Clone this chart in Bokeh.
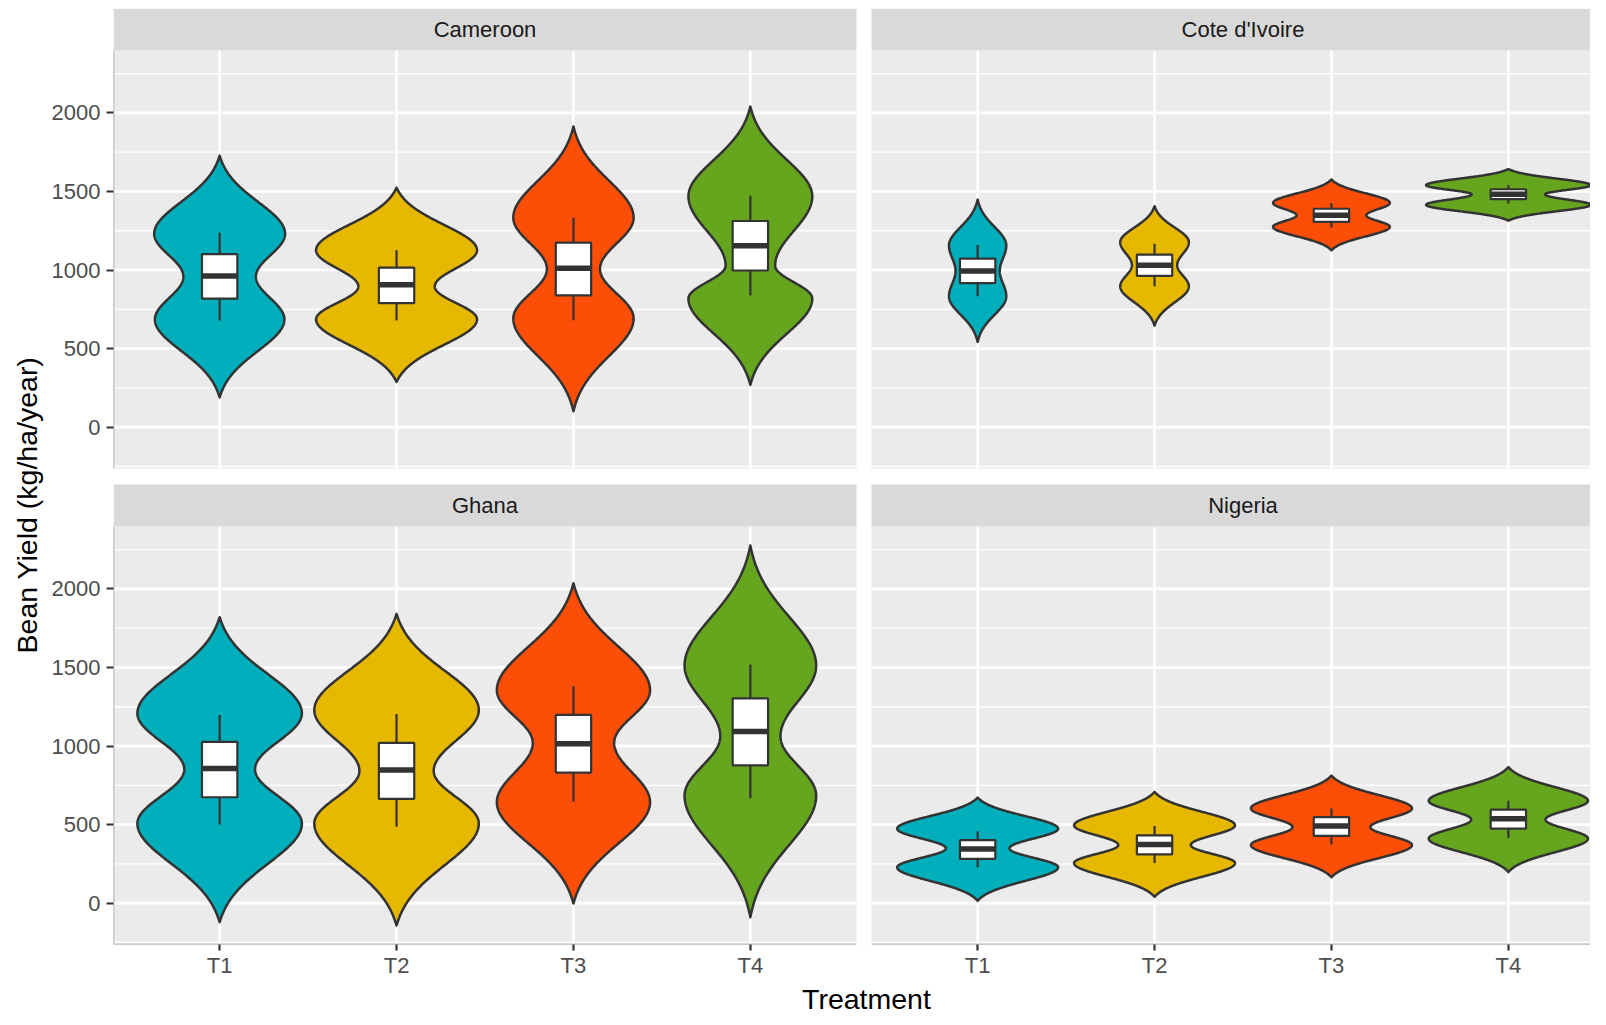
import numpy as np
from bokeh.plotting import figure
from bokeh.models import FixedTicker, Range1d, ColumnDataSource, Title
from bokeh.embed import file_html
from bokeh.resources import INLINE
from bokeh.core.properties import value

# ---------------- data ----------------
countries = ["Cameroon", "Cote d'Ivoire", "Ghana", "Nigeria"]
treatments = ["T1", "T2", "T3", "T4"]
treatment_colors = ["#00AFBB", "#E7B800", "#FC4E07", "#66A61E"]

# violin outline: tips, lower / upper modes and neck (kg/ha/year), half widths (x units)
tip_low    = [[189, 287, 101, 269], [542, 646, 1125, 1314], [-121, -142, -2, -90], [15, 40, 165, 198]]
mode_low   = [[686, 686, 692, 818], [833, 896, 1275, 1415], [507, 507, 643, 685], [228, 255, 370, 411]]
width_low  = [[0.366, 0.455, 0.340, 0.350], [0.162, 0.194, 0.330, 0.465],
              [0.465, 0.465, 0.433, 0.372], [0.455, 0.455, 0.455, 0.450]]
neck       = [[958, 895, 1007, 1028], [994, 1031, 1348, 1481], [852, 842, 1020, 1062], [349, 370, 484, 532]]
width_neck = [[0.205, 0.216, 0.150, 0.140], [0.125, 0.128, 0.197, 0.207],
              [0.200, 0.210, 0.230, 0.170], [0.180, 0.205, 0.220, 0.210]]
mode_high  = [[1231, 1126, 1333, 1469], [1156, 1177, 1427, 1540], [1208, 1229, 1355, 1512], [474, 495, 603, 651]]
width_high = [[0.370, 0.455, 0.340, 0.350], [0.162, 0.194, 0.330, 0.465],
              [0.465, 0.465, 0.433, 0.372], [0.455, 0.455, 0.455, 0.450]]
tip_high   = [[1728, 1524, 1914, 2040], [1448, 1406, 1577, 1643], [1820, 1841, 2036, 2276], [672, 708, 812, 866]]

# box plot statistics (kg/ha/year)
whisker_low  = [[679, 679, 680, 839], [833, 896, 1271, 1423], [500, 486, 647, 668], [228, 255, 374, 415]]
q1           = [[818, 790, 839, 997], [917, 963, 1306, 1451], [674, 664, 831, 877], [282, 311, 428, 474]]
median       = [[962, 906, 1011, 1154], [994, 1031, 1348, 1482], [857, 848, 1014, 1093], [344, 374, 491, 537]]
q3           = [[1101, 1015, 1175, 1312], [1073, 1098, 1390, 1514], [1026, 1020, 1198, 1303], [401, 432, 547, 595]]
whisker_high = [[1237, 1126, 1333, 1473], [1160, 1167, 1427, 1539], [1198, 1204, 1380, 1518], [457, 491, 603, 651]]

y_major = [0, 500, 1000, 1500, 2000]
y_minor = [-250, 250, 750, 1250, 1750, 2250]

# ---------------- layout ----------------
Y_LO, Y_HI = -263.0, 2397.0
X_LO, X_HI = 0.4, 4.6
PANEL_W, PANEL_H = 743, 418
STRIP_H, HGAP, VGAP = 42, 15, 16
LEFT, TOP = 113, 8
FRAME_W = 1590 - LEFT
FRAME_H = 2 * (PANEL_H + STRIP_H) + VGAP
BOTTOM = 1009 - TOP - FRAME_H
upx = (X_HI - X_LO) / PANEL_W
upp = (Y_HI - Y_LO) / PANEL_H
XO = (PANEL_W + HGAP) * upx
YO = (PANEL_H + STRIP_H + VGAP) * upp
BOX_HALF = 0.1
panel_col = [0, 1, 0, 1]
panel_row = [1, 1, 0, 0]   # 1 = top row

FONT = "Liberation Sans"
DARK = "#333333"
TITLE_PX = 28.5

p = figure(frame_width=FRAME_W, frame_height=FRAME_H,
           x_range=Range1d(X_LO, X_LO + FRAME_W * upx),
           y_range=Range1d(Y_LO, Y_LO + FRAME_H * upp),
           output_backend="svg", toolbar_location=None,
           min_border_left=LEFT, min_border_right=0, min_border_top=TOP, min_border_bottom=BOTTOM,
           background_fill_color="white", border_fill_color="white", outline_line_color=None)
p.grid.visible = False


def violin_outline(t_lo, m_lo, w_lo, nk, w_nk, m_hi, w_hi, t_hi, n=301):
    v = np.linspace(t_lo, t_hi, n)
    hw = np.zeros_like(v)
    s_lo = 0.4 * (m_lo - t_lo)
    s_hi = 0.4 * (t_hi - m_hi)
    g_end = np.exp(-0.5 / 0.16)
    m = v <= m_lo
    d = (m_lo - v[m]) / (m_lo - t_lo)
    hw[m] = w_lo * (np.exp(-0.5 * ((m_lo - v[m]) / s_lo) ** 2) - g_end * d ** 2)
    m = (v > m_lo) & (v <= nk)
    f = (v[m] - m_lo) / (nk - m_lo)
    hw[m] = w_nk + (w_lo - w_nk) * (1 + np.cos(np.pi * f)) / 2
    m = (v > nk) & (v <= m_hi)
    f = (v[m] - nk) / (m_hi - nk)
    hw[m] = w_nk + (w_hi - w_nk) * (1 - np.cos(np.pi * f)) / 2
    m = v > m_hi
    d = (v[m] - m_hi) / (t_hi - m_hi)
    hw[m] = w_hi * (np.exp(-0.5 * ((v[m] - m_hi) / s_hi) ** 2) - g_end * d ** 2)
    return v, np.clip(hw, 0, None)


bg = dict(left=[], right=[], bottom=[], top=[])
strip = dict(left=[], right=[], bottom=[], top=[], tx=[], ty=[])
gmaj = dict(x0=[], y0=[], x1=[], y1=[])
gmin = dict(x0=[], y0=[], x1=[], y1=[])
axl = dict(x0=[], y0=[], x1=[], y1=[])
vio = dict(xs=[], ys=[], color=[])
wh = dict(x0=[], y0=[], x1=[], y1=[])
box = dict(left=[], right=[], bottom=[], top=[])
med = dict(x0=[], x1=[], y=[])

for i, c in enumerate(countries):
    xo = XO * panel_col[i]
    yo = YO * panel_row[i]
    bg["left"].append(X_LO + xo); bg["right"].append(X_HI + xo)
    bg["bottom"].append(Y_LO + yo); bg["top"].append(Y_HI + yo)
    strip["left"].append(X_LO + xo); strip["right"].append(X_HI + xo)
    strip["bottom"].append(Y_HI + yo); strip["top"].append(Y_HI + yo + STRIP_H * upp)
    strip["tx"].append((X_LO + X_HI) / 2 + xo); strip["ty"].append(Y_HI + yo + STRIP_H * upp / 2)
    for t in y_major:
        gmaj["x0"].append(X_LO + xo); gmaj["x1"].append(X_HI + xo)
        gmaj["y0"].append(t + yo); gmaj["y1"].append(t + yo)
    for t in y_minor:
        gmin["x0"].append(X_LO + xo); gmin["x1"].append(X_HI + xo)
        gmin["y0"].append(t + yo); gmin["y1"].append(t + yo)
    for k in range(len(treatments)):
        gmaj["x0"].append(k + 1 + xo); gmaj["x1"].append(k + 1 + xo)
        gmaj["y0"].append(Y_LO + yo); gmaj["y1"].append(Y_HI + yo)
    if panel_col[i] == 0:
        axl["x0"].append(X_LO); axl["x1"].append(X_LO)
        axl["y0"].append(Y_LO + yo); axl["y1"].append(Y_HI + yo)
    if panel_row[i] == 0:
        axl["x0"].append(X_LO + xo); axl["x1"].append(X_HI + xo)
        axl["y0"].append(Y_LO); axl["y1"].append(Y_LO)
    for j, tr in enumerate(treatments):
        cx = j + 1 + xo
        v, hw = violin_outline(tip_low[i][j], mode_low[i][j], width_low[i][j], neck[i][j],
                               width_neck[i][j], mode_high[i][j], width_high[i][j], tip_high[i][j])
        vio["xs"].append(list(np.concatenate([cx - hw, (cx + hw)[::-1]])))
        vio["ys"].append(list(np.concatenate([v, v[::-1]]) + yo))
        vio["color"].append(treatment_colors[j])
        wh["x0"] += [cx, cx]; wh["x1"] += [cx, cx]
        wh["y0"] += [whisker_low[i][j] + yo, q3[i][j] + yo]
        wh["y1"] += [q1[i][j] + yo, whisker_high[i][j] + yo]
        box["left"].append(cx - BOX_HALF); box["right"].append(cx + BOX_HALF)
        box["bottom"].append(q1[i][j] + yo); box["top"].append(q3[i][j] + yo)
        med["x0"].append(cx - BOX_HALF); med["x1"].append(cx + BOX_HALF); med["y"].append(median[i][j] + yo)

p.quad(source=ColumnDataSource(bg), left="left", right="right", bottom="bottom", top="top",
       fill_color="#EBEBEB", line_color=None)
p.segment(source=ColumnDataSource(gmin), x0="x0", y0="y0", x1="x1", y1="y1",
          line_color="white", line_width=1.3)
p.segment(source=ColumnDataSource(gmaj), x0="x0", y0="y0", x1="x1", y1="y1",
          line_color="white", line_width=2.6)
p.patches(source=ColumnDataSource(vio), xs="xs", ys="ys", fill_color="color",
          line_color=DARK, line_width=2.5, line_join="round")
p.segment(source=ColumnDataSource(wh), x0="x0", y0="y0", x1="x1", y1="y1",
          line_color=DARK, line_width=2.2)
p.quad(source=ColumnDataSource(box), left="left", right="right", bottom="bottom", top="top",
       fill_color="white", line_color=DARK, line_width=2.2)
p.segment(source=ColumnDataSource(med), x0="x0", y0="y", x1="x1", y1="y",
          line_color=DARK, line_width=5.5, line_cap="butt")
p.quad(source=ColumnDataSource(strip), left="left", right="right", bottom="bottom", top="top",
       fill_color="#D9D9D9", line_color=None)
p.text(source=ColumnDataSource(dict(x=strip["tx"], y=strip["ty"], t=countries)), x="x", y="y", text="t",
       text_align="center", text_baseline="middle", text_font=value(FONT),
       text_font_size="22px", text_color="#1A1A1A")
p.segment(source=ColumnDataSource(axl), x0="x0", y0="y0", x1="x1", y1="y1",
          line_color="#9A9A9A", line_width=1.5)

# axes
yt = [float(t) for t in y_major] + [float(t + YO) for t in y_major]
p.yaxis.ticker = FixedTicker(ticks=yt, minor_ticks=[])
p.yaxis.major_label_overrides = {yt[k]: str(y_major[k % len(y_major)]) for k in range(len(yt))}
xt = [float(k + 1) for k in range(4)] + [float(k + 1 + XO) for k in range(4)]
p.xaxis.ticker = FixedTicker(ticks=xt, minor_ticks=[])
p.xaxis.major_label_overrides = {xt[k]: treatments[k % 4] for k in range(len(xt))}
for ax in (p.xaxis, p.yaxis):
    ax.axis_line_color = None
    ax.major_tick_line_color = DARK
    ax.major_tick_line_width = 2.2
    ax.major_tick_in = 0
    ax.minor_tick_line_color = None
    ax.major_label_text_font = FONT
    ax.major_label_text_font_size = "22px"
    ax.major_label_text_color = "#4D4D4D"
p.yaxis.major_tick_out = 7
p.xaxis.major_tick_out = 6
p.yaxis.major_label_standoff = 6
p.xaxis.major_label_standoff = 2

# axis titles, centred on the panel area as in the reference
y_title_text = "Bean Yield (kg/ha/year)"
x_title_text = "Treatment"
y_title_len = 10.449 * TITLE_PX          # Arial-metric width of the text
x_title_len = 4.557 * TITLE_PX
y_centre_from_bottom = (FRAME_H - STRIP_H) / 2 - 7
x_centre_from_left = (2 * PANEL_W + HGAP) / 2 + 3
p.add_layout(Title(text=y_title_text, align="left", vertical_align="bottom",
                   offset=y_centre_from_bottom - y_title_len / 2, standoff=12,
                   text_font=FONT, text_font_size=f"{TITLE_PX}px", text_font_style="normal",
                   text_color="black"), "left")
p.add_layout(Title(text=x_title_text, align="left", vertical_align="top",
                   offset=x_centre_from_left - x_title_len / 2, standoff=4,
                   text_font=FONT, text_font_size=f"{TITLE_PX}px", text_font_style="normal",
                   text_color="black"), "below")

open("out.html", "w").write(file_html(p, INLINE))
